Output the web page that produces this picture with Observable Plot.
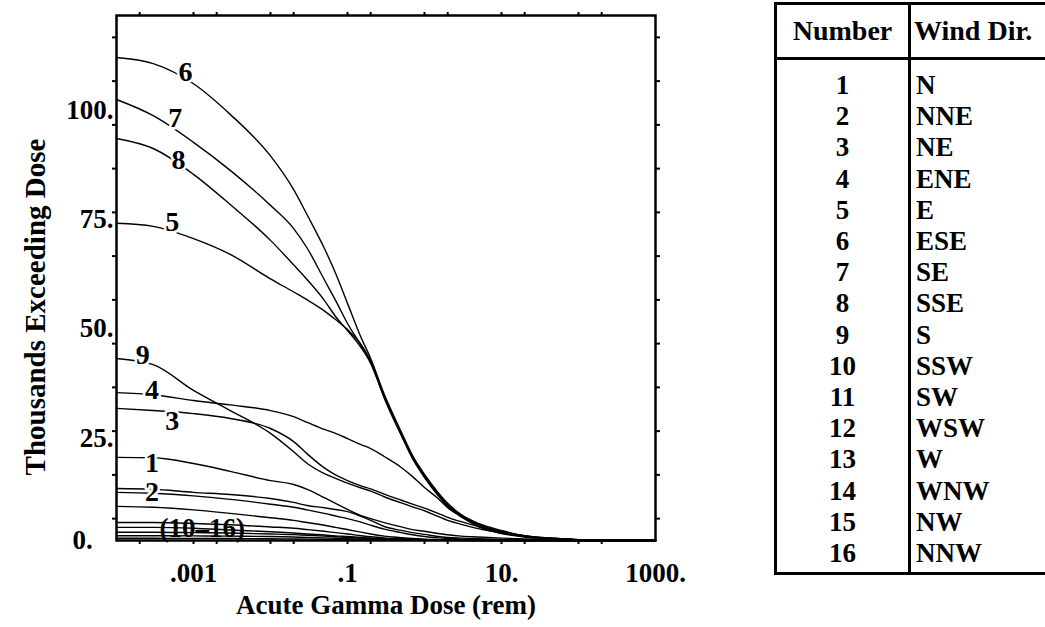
<!DOCTYPE html>
<html><head><meta charset="utf-8">
<script src="https://cdn.jsdelivr.net/npm/d3@7"></script>
<script src="https://cdn.jsdelivr.net/npm/@observablehq/plot@0.6"></script>
<style>
html,body{margin:0;padding:0;background:#fff;overflow:hidden;width:1045px;height:627px;}
#chart{position:absolute;left:0;top:0;}
#legend{position:absolute;left:774px;top:2px;width:360px;table-layout:fixed;border-collapse:collapse;font-family:"Liberation Serif",serif;font-weight:bold;font-size:27px;color:#000;}
#legend th{height:52px;border:3px solid #000;padding:0;font-weight:bold;font-size:28px;white-space:nowrap;}
#legend th.num{width:131px;text-align:center;}
#legend th.dir{text-align:left;padding-left:3px;}
#legend td{border-left:3px solid #000;border-right:3px solid #000;height:31.2px;line-height:31.2px;padding:0;}
#legend td.num{text-align:center;}
#legend td.dir{text-align:left;padding-left:5px;}
#legend tr.first td{padding-top:10px;}
#legend tr.last td{border-bottom:3px solid #000;padding-bottom:3px;}
</style></head><body>
<div id="chart"></div>
<table id="legend"></table>
<script>
// Acute gamma dose grid (rem)
const doses = [0.0001, 0.0003, 0.001, 0.003, 0.01, 0.02, 0.03, 0.05, 0.07, 0.1, 0.15, 0.2, 0.3, 0.5, 0.7, 1, 1.5, 2, 3, 5, 10, 20, 50, 100, 1000];

// Thousands exceeding dose, one array per wind direction
const curve1  = [19.0, 18.9, 17.6, 15.8, 13.7, 12.8, 11.7, 9.8, 8.5, 7.1, 5.7, 5.0, 4.1, 3.1, 2.5, 2.1, 1.6, 1.3, 1.0, 0.8, 0.55, 0.35, 0.2, 0.1, 0];
const curve2  = [11.9, 11.7, 11.0, 10.5, 9.6, 8.7, 8.0, 7.5, 7.1, 6.6, 5.5, 4.6, 3.2, 2.3, 1.8, 1.4, 0.9, 0.7, 0.55, 0.4, 0.25, 0.12, 0.05, 0.02, 0];
const curve3  = [30.2, 29.7, 29.0, 27.9, 25.6, 22.6, 19.8, 16.6, 15.0, 13.7, 12.5, 11.8, 10.6, 9.2, 8.3, 7.4, 6.2, 5.3, 4.3, 3.2, 2.1, 1.1, 0.45, 0.2, 0];
const curve4  = [33.8, 33.3, 32.0, 31.0, 29.7, 28.3, 27.0, 25.4, 24.5, 23.3, 21.9, 21.0, 19.2, 16.7, 14.6, 12.1, 9.6, 7.5, 5.5, 3.2, 1.6, 0.8, 0.35, 0.15, 0];
const curve5  = [72.5, 71.8, 69.0, 65.4, 59.8, 56.8, 55.0, 52.5, 50.5, 48.2, 44.8, 41.0, 32.6, 24.0, 18.7, 14.4, 10.3, 7.8, 5.4, 3.3, 1.8, 0.9, 0.4, 0.15, 0];
const curve6  = [110.4, 109.0, 104.4, 97.4, 87.9, 80.2, 74.4, 66.8, 61.1, 54.2, 46.4, 41.6, 33.4, 24.8, 19.4, 15.1, 11.0, 8.5, 5.9, 3.9, 2.3, 1.1, 0.5, 0.2, 0];
const curve7  = [100.8, 97.1, 91.0, 84.6, 76.6, 71.3, 66.8, 59.6, 54.9, 49.6, 44.6, 40.7, 32.9, 24.5, 19.2, 14.9, 10.7, 8.2, 5.7, 3.7, 2.1, 1.0, 0.45, 0.2, 0];
const curve8  = [91.9, 89.6, 83.7, 76.8, 68.6, 63.0, 59.6, 54.9, 51.2, 48.0, 44.1, 40.5, 32.7, 24.2, 19.0, 14.6, 10.5, 8.0, 5.5, 3.4, 1.9, 0.9, 0.4, 0.15, 0];
const curve9  = [41.6, 40.2, 34.3, 29.7, 24.5, 20.3, 17.6, 15.3, 14.2, 13.1, 12.0, 11.3, 10.0, 8.6, 7.7, 6.8, 5.5, 4.6, 3.7, 2.7, 1.7, 0.9, 0.4, 0.15, 0];
const curve10 = [11.0, 10.8, 10.2, 9.4, 8.3, 7.6, 7.0, 6.2, 5.6, 5.0, 4.2, 3.5, 2.6, 1.8, 1.3, 0.9, 0.6, 0.45, 0.3, 0.2, 0.1, 0.05, 0.02, 0.01, 0];
const curve11 = [7.8, 7.6, 7.0, 6.2, 5.2, 4.6, 4.1, 3.5, 3.0, 2.5, 1.9, 1.5, 1.0, 0.65, 0.45, 0.3, 0.2, 0.14, 0.09, 0.05, 0.02, 0.01, 0, 0, 0];
const curve12 = [4.1, 4.1, 3.9, 3.6, 3.1, 2.8, 2.5, 2.1, 1.8, 1.5, 1.1, 0.85, 0.6, 0.4, 0.28, 0.2, 0.13, 0.09, 0.06, 0.03, 0.01, 0, 0, 0, 0];
const curve13 = [3.0, 3.0, 2.8, 2.4, 2.0, 1.7, 1.5, 1.25, 1.05, 0.9, 0.7, 0.55, 0.4, 0.27, 0.2, 0.14, 0.09, 0.06, 0.04, 0.02, 0.01, 0, 0, 0, 0];
const curve14 = [1.9, 1.9, 1.8, 1.7, 1.5, 1.35, 1.2, 1.0, 0.85, 0.7, 0.55, 0.45, 0.3, 0.2, 0.15, 0.1, 0.07, 0.05, 0.03, 0.02, 0.01, 0, 0, 0, 0];
const curve15 = [1.1, 1.1, 1.05, 1.0, 0.9, 0.8, 0.7, 0.6, 0.5, 0.42, 0.33, 0.26, 0.18, 0.12, 0.09, 0.06, 0.04, 0.03, 0.02, 0.01, 0, 0, 0, 0, 0];
const curve16 = [0.5, 0.5, 0.48, 0.45, 0.4, 0.36, 0.32, 0.27, 0.23, 0.19, 0.15, 0.12, 0.08, 0.06, 0.04, 0.03, 0.02, 0.01, 0.01, 0, 0, 0, 0, 0, 0];

const curveNumbers = ["1","2","3","4","5","6","7","8","9","10","11","12","13","14","15","16"];
const windDirections = ["N","NNE","NE","ENE","E","ESE","SE","SSE","S","SSW","SW","WSW","W","WNW","NW","NNW"];

// curve labels (data coordinates)
const labelTexts  = ["6", "7", "8", "5", "9", "4", "3", "1", "2"];
const labelDoses  = [0.00079, 0.00058, 0.00064, 0.00053, 0.00022, 0.00029, 0.00053, 0.00029, 0.00029];
const labelValues = [107.0, 96.5, 86.9, 72.7, 42.3, 34.3, 27.4, 17.8, 11.0];
const groupLabelTexts  = ["(10–16)"];
const groupLabelDoses  = [0.0013];
const groupLabelValues = [2.7];

// axes
const xTickValues = [0.001, 0.1, 10, 1000];
const xTickLabels = [".001", ".1", "10.", "1000."];
const xMinorTicks = [0.0002, 0.001, 0.002, 0.01, 0.02, 0.1, 0.2, 1, 2, 10, 20, 100, 200];
const yTickValues = [25, 50, 75, 100];
const yTickLabels = ["25.", "50.", "75.", "100."];
const yZeroLabel = ["0."];
const yMinorTicks = [5, 15, 25, 35, 45, 55, 65, 75, 85, 95, 105, 115];
const xTitle = ["Acute Gamma Dose (rem)"];
const yTitle = ["Thousands Exceeding Dose"];

const series = [curve1, curve2, curve3, curve4, curve5, curve6, curve7, curve8, curve9, curve10, curve11, curve12, curve13, curve14, curve15, curve16];
const rows = series.flatMap((vals, i) => vals.map((v, j) => ({dose: doses[j], value: v, id: curveNumbers[i]})));

const font = '"Liberation Serif", "Times New Roman", serif';

const chart = Plot.plot({
  width: 700,
  height: 627,
  marginLeft: 116,
  marginTop: 15,
  marginRight: 45,
  marginBottom: 87,
  style: {fontFamily: font, fontWeight: "bold", fontSize: "27px", color: "#000", background: "transparent"},
  x: {type: "log", domain: [1e-4, 1000]},
  y: {domain: [0, 120]},
  marks: [
    Plot.line(rows, {x: "dose", y: "value", z: "id", stroke: "#000", strokeWidth: 1.4, curve: "monotone-x"}),
    Plot.text(labelTexts, {x: (d, i) => labelDoses[i], y: (d, i) => labelValues[i], text: d => d,
      fill: "#000", stroke: "#fff", strokeWidth: 5, paintOrder: "stroke", fontSize: 28}),
    Plot.text(groupLabelTexts, {x: (d, i) => groupLabelDoses[i], y: (d, i) => groupLabelValues[i], text: d => d,
      fill: "#000", fontSize: 27}),
    Plot.frame({stroke: "#000", strokeWidth: 2.5}),
    Plot.axisX({anchor: "bottom", ticks: xMinorTicks, tickSize: 4, strokeWidth: 2, tickFormat: () => "", label: null}),
    Plot.axisX({anchor: "top", ticks: xMinorTicks, tickSize: 4, strokeWidth: 2, tickFormat: () => "", label: null}),
    Plot.axisX({anchor: "bottom", ticks: xTickValues, tickSize: 0, tickPadding: 22, fontSize: 27,
      tickFormat: d => xTickLabels[xTickValues.indexOf(d)], label: null}),
    Plot.axisY({anchor: "left", ticks: yMinorTicks, tickSize: 4, strokeWidth: 2, tickFormat: () => "", label: null}),
    Plot.axisY({anchor: "right", ticks: yMinorTicks, tickSize: 4, strokeWidth: 2, tickFormat: () => "", label: null}),
    Plot.axisY({anchor: "left", ticks: yTickValues, tickSize: 0, tickPadding: 3, dy: 7, fontSize: 27,
      tickFormat: d => yTickLabels[yTickValues.indexOf(d)], label: null}),
    Plot.text(yZeroLabel, {frameAnchor: "bottom-left", dx: -44, dy: 8, textAnchor: "start", fontSize: 27}),
    Plot.text(xTitle, {frameAnchor: "bottom", dy: 73, textAnchor: "middle", fontSize: 27}),
    Plot.text(yTitle, {frameAnchor: "left", rotate: -90, textAnchor: "middle", dx: -81, dy: 29, fontSize: 29})
  ]
});
document.getElementById("chart").appendChild(chart);

// table of numbers and wind directions
const table = d3.select("#legend");
const head = table.append("thead").append("tr");
head.append("th").attr("class", "num").text("Number");
head.append("th").attr("class", "dir").text("Wind Dir.");
const body = table.append("tbody");
curveNumbers.forEach((n, i) => {
  const tr = body.append("tr").attr("class", i === 0 ? "first" : (i === curveNumbers.length - 1 ? "last" : null));
  tr.append("td").attr("class", "num").text(n);
  tr.append("td").attr("class", "dir").text(windDirections[i]);
});
</script>
</body></html>
